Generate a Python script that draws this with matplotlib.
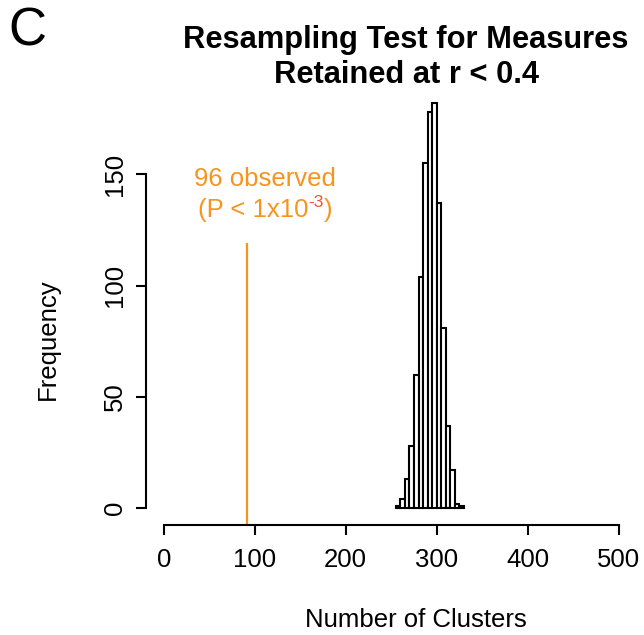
import matplotlib
matplotlib.use('Agg')
import matplotlib.pyplot as plt
import matplotlib.transforms as mtransforms

plt.rcParams['font.family'] = ['Liberation Sans', 'DejaVu Sans']

# resampled cluster counts (1000 draws), bins of width 5 starting at 255
bin_start = 255
bin_width = 5
counts = [1, 4, 13, 28, 60, 104, 155, 178, 182, 137, 81, 37, 17, 2, 1]
observed_x = 92
line_top = 119
xticks = [0, 100, 200, 300, 400, 500]
yticks = [0, 50, 100, 150]

orange = '#F7941E'
red = '#EE5130'
fs = 18.5

fig = plt.figure(figsize=(6.44, 6.35), dpi=100)
ax = fig.add_axes([0.226, 0.174, 0.763, 0.689])

edges = [bin_start + i * bin_width for i in range(len(counts))]
ax.bar(edges, counts, width=bin_width, align='edge', facecolor='white',
       edgecolor='black', linewidth=1.5)
ax.plot([observed_x, observed_x], [-7.3, line_top], color=orange, lw=1.6,
        clip_on=False, solid_capstyle='butt')

ax.set_xlim(-20, 520)
ax.set_ylim(-7.3, 189.3)
for s in ['top', 'right']:
    ax.spines[s].set_visible(False)
ax.spines['left'].set_bounds(0, 150)
ax.spines['bottom'].set_bounds(0, 500)
for s in ['left', 'bottom']:
    ax.spines[s].set_linewidth(1.5)
ax.set_xticks(xticks)
ax.set_yticks(yticks)
ax.tick_params(length=7.2, width=1.5, labelsize=fs)
ax.tick_params(axis='x', pad=10)
ax.tick_params(axis='y', pad=6)
for lab in ax.get_yticklabels():
    lab.set_rotation(90)
    lab.set_va('center')

fig.text(416 / 644, 1 - 620 / 635, 'Number of Clusters', ha='center', va='center', size=fs)
fig.text(48 / 644, 1 - 339 / 635, 'Frequency', ha='center', va='center', size=fs, rotation=90)
fig.text(406 / 644, 1 - 40 / 635, 'Resampling Test for Measures', ha='center', va='center',
         size=22.2, weight='bold')
fig.text(406 / 644, 1 - 75 / 635, 'Retained at r < 0.4', ha='center', va='center',
         size=22.2, weight='bold')
fig.text(8 / 644, 1 - 32 / 635, 'C', ha='left', va='center', size=38)

# annotation for the observed value
ax.text(111.7, 144.7, '96 observed', ha='center', va='baseline', color=orange, size=fs)

fig.canvas.draw()
r = fig.canvas.get_renderer()
parts = [('(P < 1x10', orange, fs, 0), ('-3', red, 12.5, 9.6), (')', orange, fs, 0)]
texts = []
widths = []
for s, c, size, dy in parts:
    t = ax.text(0, 0, s, color=c, size=size, ha='left', va='baseline')
    widths.append(t.get_window_extent(r).width)
    texts.append(t)
total = sum(widths)
cx, cy = 111.7, 131
dx = -total / 2
for t, w, (s, c, size, dy) in zip(texts, widths, parts):
    t.set_position((cx, cy))
    t.set_transform(mtransforms.offset_copy(ax.transData, fig, x=dx, y=dy, units='dots'))
    dx += w

fig.savefig('out.png', dpi=100)
